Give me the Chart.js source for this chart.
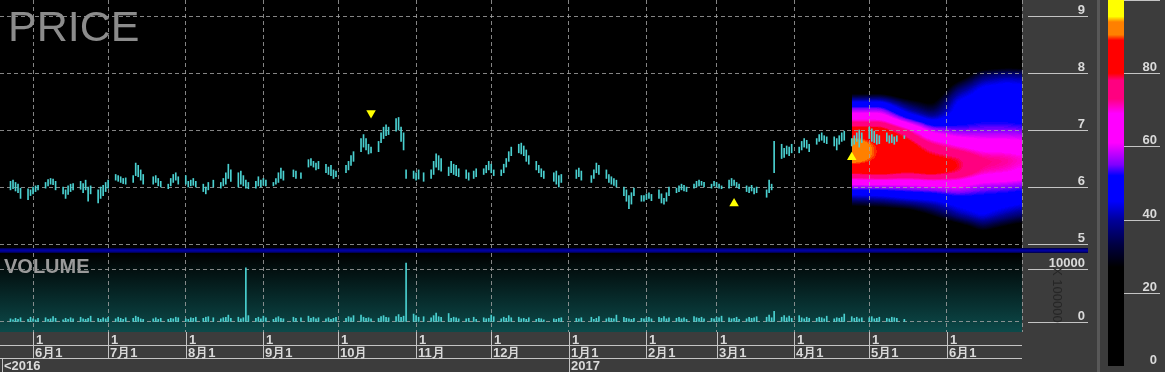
<!DOCTYPE html>
<html>
<head>
<meta charset="utf-8">
<title>PRICE</title>
<script src="https://cdn.jsdelivr.net/npm/chart.js@4.4.1/dist/chart.umd.min.js"></script>
<style>
  html, body { margin: 0; padding: 0; background: #3c3c3c; overflow: hidden; }
  #wrap { position: relative; width: 1165px; height: 372px; }
  canvas { position: absolute; }
  #sep { position: absolute; left: 0; top: 248px; width: 1088px; height: 5px;
         background: linear-gradient(#000040, #0000a0 40%, #0000a0 60%, #000040); }
  #split { position: absolute; left: 1097px; top: 0; width: 3px; height: 372px; background: #585858; }
</style>
</head>
<body>
<div id="wrap">
  <canvas id="price" width="1097" height="248" style="left:0;top:0"></canvas>
  <div id="sep"></div>
  <canvas id="volume" width="1097" height="119" style="left:0;top:253px"></canvas>
  <div id="split"></div>
  <canvas id="scale" width="65" height="372" style="left:1100px;top:0"></canvas>
</div>
<script>
'use strict';

// daily bars Mon..Fri starting 2016-05-23, one week per line, null = no trading
const firstDay = '2016-05-23';
const highs = [
  6.10, 6.12, 6.08, 6.05, 5.98,
  5.97, 5.95, 6.00, 6.02, 6.03,
  6.08, 6.13, 6.15, 6.14, 6.10,
  6.00, 5.95, 6.02, 6.05, 6.06,
  6.10, 6.06, 6.12, 6.00, 6.02,
  5.95, 6.00, 6.03, 6.08, 6.12,
  6.22, 6.20, 6.18, 6.15, 6.16,
  6.20, 6.42, 6.38, 6.30, 6.22,
  null, 6.18, 6.20, 6.15, 6.10,
  6.05, 6.15, 6.22, 6.25, 6.18,
  6.20, 6.10, 6.12, 6.15, 6.10,
  6.05, 6.00, 6.08, null, 6.12,
  6.08, 6.15, 6.25, 6.40, 6.30,
  6.25, 6.28, 6.20, 6.12, 6.08,
  6.10, 6.18, 6.12, 6.15, 6.12,
  6.08, 6.15, 6.25, 6.33, 6.28,
  null, 6.30, 6.28, null, 6.25,
  6.48, 6.50, 6.45, 6.42, 6.45,
  6.40, 6.35, 6.38, 6.30, 6.28,
  null, 6.38, 6.45, 6.55, 6.62,
  6.85, 6.92, 6.85, 6.75, 6.70,
  6.80, 6.95, 7.05, 7.09, 7.05,
  7.20, 7.22, 7.05, 6.95, 6.30,
  6.28, 6.25, 6.30, null, 6.25,
  6.30, 6.45, 6.58, 6.55, 6.50,
  6.35, 6.45, 6.40, 6.38, 6.32,
  6.30, 6.25, null, 6.28, 6.32,
  6.32, 6.38, 6.45, 6.40, 6.30,
  6.30, 6.40, 6.50, 6.62, 6.70,
  6.75, 6.77, 6.72, 6.65, 6.55,
  6.45, 6.38, 6.32, 6.28, null,
  6.25, 6.28, 6.20, 6.22, null,
  null, null, 6.30, 6.33, 6.28,
  null, 6.20, 6.30, 6.42, 6.38,
  6.30, 6.22, 6.18, 6.15, 6.12,
  6.00, 5.95, 5.85, 5.90, 5.98,
  5.85, 5.85, 5.88, 5.90, 5.87,
  5.95, 5.88, 5.80, 5.90, 6.00,
  5.98, 6.02, 6.05, 6.03, 6.00,
  6.05, 6.10, 6.12, 6.10, 6.08,
  6.05, 6.10, 6.08, 6.05, 6.02,
  6.12, 6.15, 6.12, 6.08, 6.05,
  6.02, 6.00, 6.03, 5.98, 6.00,
  null, 5.95, 6.12, 6.05, 6.80,
  6.75, 6.68, 6.72, 6.70, 6.75,
  6.70, 6.80, 6.85, 6.82, 6.75,
  6.85, 6.92, 6.95, 6.90, 6.88,
  6.88, 6.85, 6.90, 6.95, 6.98,
  6.85, 6.90, 6.95, 7.00, 6.95,
  7.05, 7.02, 6.98, 6.92, 6.90,
  6.95, 6.90, 6.92, 6.88, 6.90,
  6.90
];
const lows = [
  5.95, 5.97, 5.93, 5.90, 5.80,
  5.78, 5.85, 5.88, 5.92, 5.95,
  5.98, 6.02, 6.05, 6.04, 5.95,
  5.88, 5.80, 5.87, 5.92, 5.95,
  5.96, 5.90, 5.95, 5.75, 5.88,
  5.72, 5.80, 5.85, 5.92, 5.98,
  6.12, 6.10, 6.08, 6.06, 6.05,
  6.08, 6.20, 6.18, 6.12, 6.05,
  null, 6.05, 6.08, 6.02, 6.00,
  5.97, 6.02, 6.08, 6.12, 6.05,
  6.05, 6.00, 6.02, 6.03, 6.00,
  5.92, 5.88, 5.95, null, 6.00,
  5.98, 6.02, 6.05, 6.15, 6.10,
  6.00, 6.05, 6.02, 5.98, 5.97,
  5.98, 6.02, 6.00, 6.03, 6.02,
  6.02, 6.05, 6.08, 6.15, 6.12,
  null, 6.18, 6.15, null, 6.15,
  6.35, 6.38, 6.35, 6.30, 6.32,
  6.25, 6.22, 6.20, 6.15, 6.18,
  null, 6.25, 6.30, 6.38, 6.45,
  6.62, 6.70, 6.65, 6.58, 6.60,
  6.62, 6.78, 6.85, 6.90, 6.92,
  6.98, 7.00, 6.80, 6.65, 6.15,
  6.15, 6.12, 6.14, null, 6.10,
  6.15, 6.22, 6.35, 6.30, 6.28,
  6.20, 6.25, 6.22, 6.20, 6.18,
  6.15, 6.12, null, 6.15, 6.18,
  6.22, 6.25, 6.30, 6.25, 6.20,
  6.20, 6.25, 6.35, 6.45, 6.55,
  6.60, 6.58, 6.55, 6.45, 6.40,
  6.30, 6.25, 6.18, 6.15, null,
  6.10, 6.05, 6.00, 6.08, null,
  null, null, 6.15, 6.18, 6.12,
  null, 6.08, 6.15, 6.25, 6.22,
  6.15, 6.08, 6.05, 6.03, 6.00,
  5.85, 5.75, 5.62, 5.70, 5.85,
  5.75, 5.75, 5.78, 5.80, 5.76,
  5.80, 5.72, 5.70, 5.75, 5.85,
  5.90, 5.92, 5.95, 5.93, 5.92,
  5.98, 6.00, 6.02, 6.03, 6.00,
  5.98, 6.02, 6.00, 5.98, 5.97,
  5.98, 6.02, 6.03, 6.00, 5.97,
  5.92, 5.90, 5.93, 5.88, 5.90,
  null, 5.82, 5.90, 5.95, 6.25,
  6.50, 6.52, 6.58, 6.55, 6.60,
  6.60, 6.65, 6.70, 6.68, 6.62,
  6.75, 6.80, 6.82, 6.78, 6.76,
  6.72, 6.65, 6.75, 6.80, 6.82,
  6.72, 6.75, 6.80, 6.70, 6.78,
  6.85, 6.80, 6.78, 6.75, 6.76,
  6.80, 6.77, 6.78, 6.75, 6.80,
  6.85
];
const volumes = [
  600, 400, 700, 500, 800,
  500, 900, 600, 400, 700,
  800, 500, 600, 1000, 700,
  400, 700, 500, 800, 600,
  900, 600, 500, 700, 1100,
  700, 500, 800, 600, 900,
  600, 900, 700, 500, 800,
  700, 1100, 900, 600, 500,
  null, 600, 800, 500, 700,
  500, 700, 600, 900, 800,
  600, 500, 800, 700, 900,
  700, 900, 1000, null, 800,
  600, 800, 900, 1300, 700,
  900, 600, 800, 10200, 1200,
  700, 900, 600, 1100, 800,
  500, 800, 1000, 700, 600,
  null, 900, 700, null, 800,
  1100, 700, 900, 600, 800,
  600, 800, 500, 700, 900,
  null, 700, 1000, 800, 1200,
  1300, 900, 700, 800, 600,
  700, 1000, 1200, 900, 800,
  1000, 1400, 900, 1100, 11100,
  1500, 1200, 900, null, 1000,
  800, 1200, 1700, 1000, 900,
  1600, 700, 900, 800, 600,
  600, 700, null, 900, 500,
  800, 600, 700, 1300, 1000,
  600, 900, 700, 1200, 800,
  900, 600, 700, 500, 800,
  500, 700, 600, 400, null,
  600, 500, 700, 800, null,
  null, null, 700, 600, 800,
  null, 900, 500, 700, 1000,
  600, 800, 700, 600, 1300,
  900, 700, 600, 500, 700,
  700, 600, 800, 900, 600,
  900, 700, 1000, 600, 800,
  700, 900, 600, 800, 500,
  1000, 800, 700, 900, 600,
  700, 600, 900, 800, 1100,
  800, 600, 700, 900, 500,
  600, 900, 700, 800, 1000,
  null, 900, 1300, 800, 2000,
  900, 1200, 800, 1100, 700,
  1200, 800, 600, 900, 700,
  700, 900, 800, 600, 1100,
  600, 800, 700, 900, 1500,
  1000, 700, 900, 600, 800,
  800, 1000, 600, 700, 900,
  700, 600, 900, 800, 700,
  500
];

const monthStarts = ['2016-06-01', '2016-07-01', '2016-08-01', '2016-09-01', '2016-10-01', '2016-11-01',
  '2016-12-01', '2017-01-01', '2017-02-01', '2017-03-01', '2017-04-01', '2017-05-01', '2017-06-01'];
const monthLabels = ['6月1', '7月1', '8月1', '9月1', '10月', '11月', '12月', '1月1', '2月1', '3月1', '4月1', '5月1', '6月1'];
const dayLabel = '1';
const firstYearLabel = '<2016';
const yearStarts = ['2017-01-01'];
const yearLabels = ['2017'];

const priceTicks = [5, 6, 7, 8, 9];
const volumeTicks = [0, 10000];
const volumeUnit = 'X 100000';
const colorTicks = [0, 20, 40, 60, 80, 100];

const signalDates = ['2016-10-14', '2017-03-08', '2017-04-24'];
const signalPrices = [7.30, 5.71, 6.52];
const signalUp = [false, true, true];

// forecast density (0-100), columns = dates, rows = price levels
const heatStart = '2017-04-24';
const heatDates = ['2017-04-26', '2017-05-06', '2017-05-16', '2017-05-26', '2017-06-05', '2017-06-15', '2017-06-25', '2017-07-05'];
const heatPrices = [8.25, 8.0, 7.75, 7.5, 7.25, 7.0, 6.75, 6.5, 6.25, 6.0, 5.75, 5.5, 5.25, 5.0, 4.75];
const heatGrid = [
  [0, 0, 0, 0, 0, 5, 8, 5],
  [0, 0, 0, 0, 15, 34, 38, 36],
  [10, 12, 5, 10, 35, 46, 48, 46],
  [46, 46, 32, 24, 46, 50, 50, 48],
  [64, 64, 48, 38, 48, 50, 50, 48],
  [84, 84, 74, 58, 54, 55, 55, 54],
  [94, 88, 84, 74, 68, 64, 64, 62],
  [94, 88, 85, 82, 80, 74, 73, 70],
  [82, 84, 81, 84, 80, 72, 70, 66],
  [56, 56, 57, 58, 60, 56, 55, 53],
  [36, 38, 42, 44, 48, 49, 48, 46],
  [10, 12, 15, 28, 40, 46, 40, 34],
  [0, 0, 0, 5, 15, 30, 22, 15],
  [0, 0, 0, 0, 0, 5, 0, 0],
  [0, 0, 0, 0, 0, 0, 0, 0]
];

// ---- helpers ----
const dayMs = 86400000;
const origin = Date.parse('2016-06-01');
const toDay = s => (Date.parse(s) - origin) / dayMs;
const viewFrom = -13.2, viewTo = 395.0;

const tradeDays = [];
for (let d = Date.parse(firstDay); tradeDays.length < highs.length; d += dayMs) {
  const wd = new Date(d).getUTCDay();
  if (wd !== 0 && wd !== 6) tradeDays.push((d - origin) / dayMs);
}
const monthDays = monthStarts.map(toDay);
const gridDays = monthDays.concat([viewTo]);

const barColor = '#4ad0d0';
const gridColor = 'rgba(165,165,165,0.8)';
const lineColor = '#c4c4c4';
const textColor = '#dadada';
const font13 = 'bold 13px "Liberation Sans", Arial, sans-serif';

const heatStops = [[0, '#000000'], [27, '#000000'], [33, '#000040'], [40, '#00009c'], [45, '#0000ff'], [52, '#0000ff'],
  [55, '#8000ff'], [58, '#c000ff'], [61, '#ff00ff'], [69, '#ff00ff'], [73, '#ff0080'], [78, '#ff0080'],
  [80, '#ff0000'], [89, '#ff0000'], [90.5, '#ff8000'], [94, '#ff8000'], [95.5, '#ffff00'], [100, '#ffff00']];
const hexRgb = h => [1, 3, 5].map(i => parseInt(h.slice(i, i + 2), 16));
const lut = [];
for (let i = 0; i <= 200; i++) {
  const v = i / 2;
  let j = 1;
  while (j < heatStops.length - 1 && heatStops[j][0] < v) j++;
  const a = hexRgb(heatStops[j - 1][1]), b = hexRgb(heatStops[j][1]);
  const t = Math.min(1, Math.max(0, (v - heatStops[j - 1][0]) / (heatStops[j][0] - heatStops[j - 1][0])));
  lut.push(a.map((c, k) => Math.round(c + (b[k] - c) * t)));
}

function boxBlur(src, W, H, r) {
  const tmp = new Float32Array(W * H);
  for (let y = 0; y < H; y++) {
    for (let x = 0; x < W; x++) {
      let s = 0;
      for (let k = -r; k <= r; k++) s += src[y * W + Math.min(W - 1, Math.max(0, x + k))];
      tmp[y * W + x] = s / (2 * r + 1);
    }
  }
  for (let x = 0; x < W; x++) {
    for (let y = 0; y < H; y++) {
      let s = 0;
      for (let k = -r; k <= r; k++) s += tmp[Math.min(H - 1, Math.max(0, y + k)) * W + x];
      src[y * W + x] = s / (2 * r + 1);
    }
  }
}

function drawHeat(chart) {
  const {ctx, chartArea: a, scales: {x, y}} = chart;
  const nc = heatDates.length, nr = heatPrices.length;
  const W = Math.round(a.width), H = Math.round(a.height);
  const days = heatDates.map(toDay);
  const colPos = [], rowPos = [];
  for (let px = 0; px < W; px++) {
    const d = x.getValueForPixel(a.left + px + 0.5);
    colPos.push(Math.min(nc - 1, Math.max(0, (d - days[0]) / (days[1] - days[0]))));
  }
  for (let py = 0; py < H; py++) {
    const v = y.getValueForPixel(a.top + py + 0.5);
    rowPos.push(Math.min(nr - 1, Math.max(0, (heatPrices[0] - v) / (heatPrices[0] - heatPrices[1]))));
  }
  const vals = new Float32Array(W * H);
  for (let py = 0; py < H; py++) {
    const r0 = Math.floor(rowPos[py]), r1 = Math.min(nr - 1, r0 + 1), tr = rowPos[py] - r0;
    for (let px = 0; px < W; px++) {
      const c0 = Math.floor(colPos[px]), c1 = Math.min(nc - 1, c0 + 1), tc = colPos[px] - c0;
      const top = heatGrid[r0][c0] * (1 - tc) + heatGrid[r0][c1] * tc;
      const bot = heatGrid[r1][c0] * (1 - tc) + heatGrid[r1][c1] * tc;
      vals[py * W + px] = top * (1 - tr) + bot * tr;
    }
  }
  boxBlur(vals, W, H, 4);
  boxBlur(vals, W, H, 4);
  const cut = Math.round(x.getPixelForValue(toDay(heatStart)) - a.left);
  const out = ctx.createImageData(W, H);
  const p = out.data;
  for (let py = 0; py < H; py++) {
    for (let px = cut; px < W; px++) {
      const k = (py * W + px) * 4;
      const col = lut[Math.max(0, Math.min(200, Math.round(vals[py * W + px] * 2)))];
      p[k] = col[0]; p[k + 1] = col[1]; p[k + 2] = col[2]; p[k + 3] = 255;
    }
  }
  const layer = document.createElement('canvas');
  layer.width = W; layer.height = H;
  layer.getContext('2d').putImageData(out, 0, 0);
  ctx.drawImage(layer, a.left, a.top);
}

function rightTicks(ctx, scale, values, x0, x1, labelX, opts = {}) {
  ctx.strokeStyle = lineColor;
  ctx.lineWidth = 1;
  ctx.fillStyle = textColor;
  ctx.font = font13;
  ctx.textAlign = 'right';
  ctx.textBaseline = 'alphabetic';
  values.forEach(v => {
    const py = Math.round(scale.getPixelForValue(v)) + 0.5;
    if (!(opts.noLine && opts.noLine.includes(v))) {
      ctx.beginPath(); ctx.moveTo(x0, py); ctx.lineTo(x1, py); ctx.stroke();
    }
    if (!(opts.noLabel && opts.noLabel.includes(v))) {
      ctx.fillText(String(v), labelX, Math.min(py - 3, ctx.canvas.height - 5));
    }
  });
}

const timeScale = (fitHeight) => ({
  type: 'linear',
  min: viewFrom,
  max: viewTo,
  offset: false,
  afterBuildTicks: s => { s.ticks = gridDays.map(v => ({value: v})); },
  ticks: {display: false},
  grid: {color: gridColor, drawTicks: false, offset: false},
  border: {display: false, dash: [4, 3]},
  afterFit: s => { s.height = fitHeight; }
});

const baseOptions = {
  responsive: false,
  animation: false,
  events: [],
  layout: {padding: 0, autoPadding: false},
  plugins: {legend: {display: false}, tooltip: {enabled: false}}
};

// ---- price panel ----
const priceDecor = {
  id: 'priceDecor',
  beforeDraw(chart) {
    const {ctx, chartArea: a} = chart;
    ctx.save();
    ctx.fillStyle = '#000';
    ctx.fillRect(a.left, a.top, a.width, a.height);
    drawHeat(chart);
    ctx.restore();
  },
  afterDraw(chart) {
    const {ctx, chartArea: a, scales: {y}} = chart;
    ctx.save();
    ctx.font = '43px "Liberation Sans", Arial, sans-serif';
    ctx.fillStyle = '#8c8c8c';
    ctx.textAlign = 'left';
    ctx.fillText('PRICE', 8, 41);
    rightTicks(ctx, y, priceTicks, a.right + 6, a.right + 66, a.right + 63);
    ctx.restore();
  }
};

const priceBars = [];
tradeDays.forEach((d, i) => {
  if (highs[i] != null) priceBars.push({x: d, y: [lows[i], highs[i]]});
});
const signals = signalDates.map((s, i) => ({x: toDay(s), y: signalPrices[i]}));

new Chart(document.getElementById('price'), {
  type: 'bar',
  data: {
    datasets: [
      {type: 'bar', data: priceBars, backgroundColor: barColor, barThickness: 1, order: 2},
      {type: 'scatter', data: signals, pointStyle: 'triangle', pointRadius: 5.5,
        pointRotation: c => signalUp[c.dataIndex] ? 0 : 180,
        pointBackgroundColor: '#ffff00', pointBorderWidth: 0, order: 1}
    ]
  },
  options: Object.assign({}, baseOptions, {
    scales: {
      x: timeScale(0),
      y: {
        position: 'right', min: 4.93, max: 9.281,
        afterBuildTicks: s => { s.ticks = priceTicks.map(v => ({value: v})); },
        ticks: {display: false},
        grid: {color: gridColor, drawTicks: false},
        border: {display: false, dash: [4, 3]},
        afterFit: s => { s.width = 75; }
      }
    }
  }),
  plugins: [priceDecor]
});

// ---- volume panel + time axis ----
const volumeDecor = {
  id: 'volumeDecor',
  beforeDraw(chart) {
    const {ctx, chartArea: a} = chart;
    ctx.save();
    const g = ctx.createLinearGradient(0, a.top, 0, a.bottom);
    g.addColorStop(0, '#000000');
    g.addColorStop(1, '#0c4a4a');
    ctx.fillStyle = g;
    ctx.fillRect(a.left, a.top, a.width, a.height);
    ctx.restore();
  },
  afterDraw(chart) {
    const {ctx, chartArea: a, scales: {x, y}} = chart;
    ctx.save();
    ctx.font = 'bold 20px "Liberation Sans", Arial, sans-serif';
    ctx.fillStyle = '#9a9a9a';
    ctx.textAlign = 'left';
    ctx.fillText('VOLUME', 4, a.top + 20);
    rightTicks(ctx, y, volumeTicks, a.right + 6, a.right + 66, a.right + 63);

    ctx.save();
    ctx.translate(a.right + 31, a.top + 14);
    ctx.rotate(Math.PI / 2);
    ctx.font = '13px "Liberation Sans", Arial, sans-serif';
    ctx.fillStyle = '#262626';
    ctx.textAlign = 'left';
    ctx.fillText(volumeUnit, 0, 0);
    ctx.restore();

    // time axis rows
    const r1 = a.bottom, r2 = a.bottom + 13, r3 = a.bottom + 26, r4 = a.bottom + 40;
    ctx.strokeStyle = lineColor;
    ctx.lineWidth = 1;
    ctx.beginPath();
    ctx.moveTo(a.left, r2 + 0.5); ctx.lineTo(a.right, r2 + 0.5);
    ctx.moveTo(a.left, r3 + 0.5); ctx.lineTo(a.right, r3 + 0.5);
    ctx.moveTo(2.5, r3); ctx.lineTo(2.5, r4);
    monthDays.forEach(d => {
      const px = Math.round(x.getPixelForValue(d)) + 0.5;
      ctx.moveTo(px, r1); ctx.lineTo(px, r3);
    });
    yearStarts.forEach(s => {
      const px = Math.round(x.getPixelForValue(toDay(s))) + 0.5;
      ctx.moveTo(px, r3); ctx.lineTo(px, r4);
    });
    ctx.stroke();

    ctx.font = font13;
    ctx.fillStyle = textColor;
    ctx.textAlign = 'left';
    monthDays.forEach((d, i) => {
      const px = Math.round(x.getPixelForValue(d));
      ctx.fillText(dayLabel, px + 3, r2 - 1.5);
      ctx.fillText(monthLabels[i], px + 2, r3 - 1.5);
    });
    ctx.fillText(firstYearLabel, 4, r4 - 2);
    yearStarts.forEach((s, i) => {
      const px = Math.round(x.getPixelForValue(toDay(s)));
      ctx.fillText(yearLabels[i], px + 2, r4 - 2);
    });
    ctx.restore();
  }
};

const volumeBars = [];
tradeDays.forEach((d, i) => {
  if (volumes[i] != null) volumeBars.push({x: d, y: volumes[i]});
});

new Chart(document.getElementById('volume'), {
  type: 'bar',
  data: {datasets: [{data: volumeBars, backgroundColor: barColor, barThickness: 1}]},
  options: Object.assign({}, baseOptions, {
    scales: {
      x: timeScale(40),
      y: {
        position: 'right', min: -1887, max: 13019,
        afterBuildTicks: s => { s.ticks = volumeTicks.map(v => ({value: v})); },
        ticks: {display: false},
        grid: {color: gridColor, drawTicks: false},
        border: {display: false, dash: [4, 3]},
        afterFit: s => { s.width = 75; }
      }
    }
  }),
  plugins: [volumeDecor]
});

// ---- colour scale ----
function barGradient(chart) {
  const {ctx, chartArea, scales} = chart;
  if (!chartArea) return '#000';
  const y = scales.y;
  const g = ctx.createLinearGradient(0, y.getPixelForValue(0), 0, y.getPixelForValue(100));
  heatStops.forEach(([v, c]) => g.addColorStop(v / 100, c));
  return g;
}

const scaleDecor = {
  id: 'scaleDecor',
  afterDraw(chart) {
    const {ctx, chartArea: a, scales: {y}} = chart;
    ctx.save();
    rightTicks(ctx, y, colorTicks, a.right, a.right + 36, a.right + 33, {noLine: [0], noLabel: [100]});
    ctx.restore();
  }
};

new Chart(document.getElementById('scale'), {
  type: 'bar',
  data: {
    labels: [''],
    datasets: [{data: [[0, 100]], backgroundColor: c => barGradient(c.chart), barPercentage: 1, categoryPercentage: 1}]
  },
  options: Object.assign({}, baseOptions, {
    layout: {padding: {left: 8, top: 0, right: 0, bottom: 6}, autoPadding: false},
    scales: {
      x: {display: false},
      y: {
        position: 'right', min: 0, max: 100,
        ticks: {display: false},
        grid: {display: false},
        border: {display: false},
        afterFit: s => { s.width = 41; }
      }
    }
  }),
  plugins: [scaleDecor]
});
</script>
</body>
</html>
